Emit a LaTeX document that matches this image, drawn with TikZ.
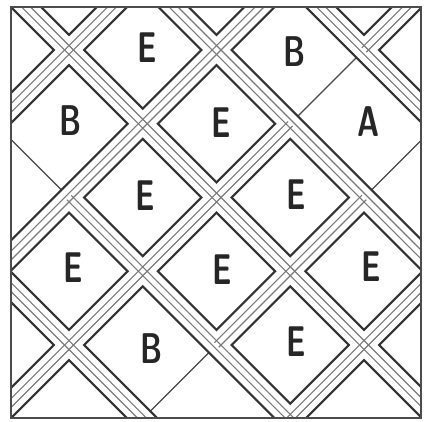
\documentclass[tikz,border=0pt]{standalone}
\usepackage{fontspec}
\begin{document}
\begin{tikzpicture}[x=1pt,y=-1pt,
  outerband/.style={draw=black!80,line width=23.4pt},
  whiteband/.style={draw=white,line width=19pt},
  innerline/.style={draw=black!52,line width=1.2pt},
  thinline/.style={draw=black!72,line width=1.4pt},
  frameline/.style={draw=black!70,line width=2pt},
  letter/.style={inner sep=0pt,text=black!85,font=\fontsize{43}{43}\selectfont\sffamily\bfseries}]
\fill[white] (0,0) rectangle (425,422);
\useasboundingbox (0,0) rectangle (425,422);
\foreach \i in {-2,...,7}{\foreach \j in {-2,...,7}{
  \coordinate (c\i x\j) at ({69+73.75*\i},{50+73.75*\j});}}
\begin{scope}
\clip (10.5,7) rectangle (421,417.5);
% thin single lines
\foreach \a/\b in {c-2x0/c0x2, c3x1/c4x0, c0x6/c2x4, c4x2/c6x0}
  \draw[thinline] (\a) -- (\b);
% bands: "\" runs and "/" runs
\def\bs{c-2x2/c2x6, c0x2/c4x6, c-2x-2/c6x6, c0x-2/c6x4, c2x-2/c6x2}
\def\fs{c-2x2/c2x-2, c-2x4/c4x-2, c-2x6/c3x1, c4x0/c6x-2, c2x4/c4x2, c2x6/c6x2}
\foreach \a/\b in \bs {\draw[outerband] (\a) -- (\b);}
\foreach \a/\b in \fs {\draw[outerband] (\a) -- (\b);}
\foreach \a/\b in \bs {\draw[whiteband] (\a) -- (\b);}
\foreach \a/\b in \fs {\draw[whiteband] (\a) -- (\b);}
\foreach \a/\b in \bs {
  \draw[innerline] ([shift={(2.2,-2.2)}]\a) -- ([shift={(2.2,-2.2)}]\b);
  \draw[innerline] ([shift={(-2.2,2.2)}]\a) -- ([shift={(-2.2,2.2)}]\b);}
\foreach \a/\b in \fs {
  \draw[innerline] ([shift={(2.2,2.2)}]\a) -- ([shift={(2.2,2.2)}]\b);
  \draw[innerline] ([shift={(-2.2,-2.2)}]\a) -- ([shift={(-2.2,-2.2)}]\b);}
\end{scope}
\draw[frameline] (10.5,7) rectangle (421,417.5);
% letters
\node[letter] (l10) at (147,48) {\scalebox{0.7}[1]{E}};
\node[letter] (l30) at (295,52) {\scalebox{0.7}[1]{B}};
\node[letter] (l01) at (71,121) {\scalebox{0.7}[1]{B}};
\node[letter] (l21) at (221,123) {\scalebox{0.7}[1]{E}};
\node[letter] (l41) at (369,122) {\scalebox{0.7}[1]{A}};
\node[letter] (l12) at (145,196) {\scalebox{0.7}[1]{E}};
\node[letter] (l32) at (296,195) {\scalebox{0.7}[1]{E}};
\node[letter] (l03) at (73,268) {\scalebox{0.7}[1]{E}};
\node[letter] (l23) at (222,270) {\scalebox{0.7}[1]{E}};
\node[letter] (l43) at (371,267) {\scalebox{0.7}[1]{E}};
\node[letter] (l14) at (152,349) {\scalebox{0.7}[1]{B}};
\node[letter] (l34) at (296,342) {\scalebox{0.7}[1]{E}};
\end{tikzpicture}
\end{document}
